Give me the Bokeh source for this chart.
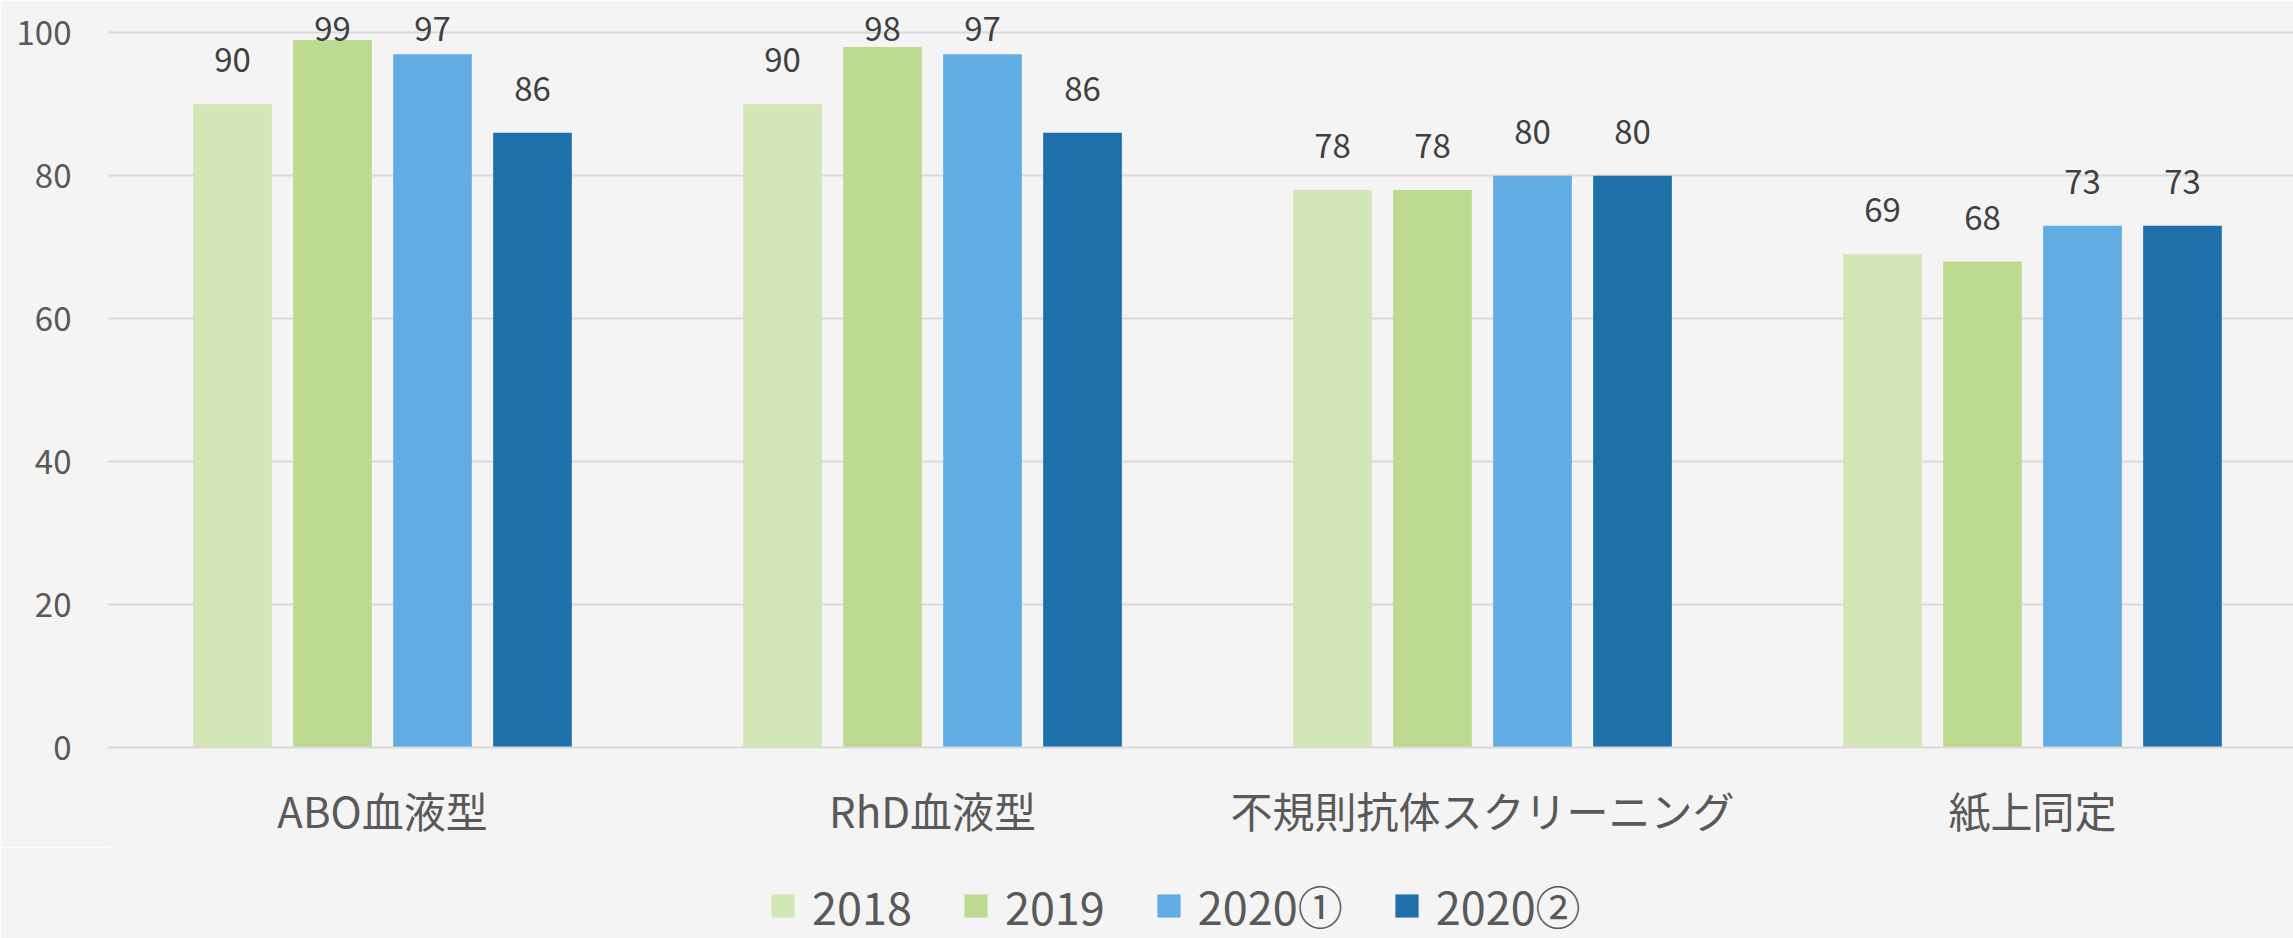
import numpy as np
from bokeh.plotting import figure
from bokeh.layouts import column
from bokeh.models import ColumnDataSource, Range1d, FixedTicker, Legend, LegendItem
from bokeh.transform import dodge
from bokeh.core.properties import value
from bokeh.embed import file_html
from bokeh.resources import INLINE

# ---- data ----
categories = ["ABO血液型", "RhD血液型", "不規則抗体スクリーニング", "紙上同定"]
series = ["2018", "2019", "2020①", "2020②"]
v2018 = [90, 90, 78, 69]
v2019 = [99, 98, 78, 68]
v2020_1 = [97, 97, 80, 73]
v2020_2 = [86, 86, 80, 73]
colors = ["#d2e6b6", "#bcdb91", "#61ade3", "#1e70aa"]
y_ticks = [0, 20, 40, 60, 80, 100]

FONT = "Noto Sans CJK JP"
BG = "#f4f4f4"
PX_PER_UNIT = 7.147          # vertical pixels per value unit
CAT_PX = 550.0               # pixels per category slot
FRAME_W = 2186
FRAME_H = 736
BOTTOM = 100
LABEL_GAP = 44 / PX_PER_UNIT  # data label offset above bar
LABEL_MAX = 100.6             # labels are kept inside the plot area

centers = [i + 0.5 for i in range(len(categories))]
all_vals = [v2018, v2019, v2020_1, v2020_2]
keys = ["s0", "s1", "s2", "s3"]

data = {"xc": centers}
for k, vals in zip(keys, all_vals):
    arr = np.array(vals, dtype=float)
    data[k] = vals
    data[k + "_ly"] = list(np.minimum(arr + LABEL_GAP, LABEL_MAX))
    data[k + "_t"] = [str(v) for v in vals]
source = ColumnDataSource(data)

p = figure(frame_width=FRAME_W, frame_height=FRAME_H,
           x_range=Range1d(0, FRAME_W / CAT_PX), y_range=Range1d(0, FRAME_H / PX_PER_UNIT),
           output_backend="svg", toolbar_location=None,
           min_border_left=107, min_border_right=0, min_border_top=11, min_border_bottom=BOTTOM)
p.background_fill_color = BG
p.border_fill_color = BG
p.outline_line_color = None

pitch = 100.0 / CAT_PX
bar_w = 78.7 / CAT_PX
offsets = [-1.5 * pitch, -0.5 * pitch, 0.5 * pitch, 1.5 * pitch]

for k, off, col in zip(keys, offsets, colors):
    p.vbar(x=dodge("xc", off, range=p.x_range), top=k, width=bar_w, bottom=0,
           source=source, fill_color=col, line_color=None)
    p.text(x=dodge("xc", off, range=p.x_range), y=k + "_ly", text=k + "_t", source=source,
           text_align="center", text_baseline="alphabetic",
           text_font=value(FONT), text_font_size="33px", text_color="#404040")

# axes
p.xaxis.ticker = FixedTicker(ticks=centers)
p.xaxis.major_label_overrides = {c: name for c, name in zip(centers, categories)}
p.xaxis.axis_line_color = "#d9d9d9"
p.xaxis.axis_line_width = 2
p.xaxis.major_tick_line_color = None
p.xaxis.minor_tick_line_color = None
p.xaxis.major_tick_out = 0
p.xaxis.major_tick_in = 0
p.xaxis.major_label_standoff = 31
p.xaxis.major_label_text_font = FONT
p.xaxis.major_label_text_font_size = "42px"
p.xaxis.major_label_text_color = "#595959"

p.yaxis.ticker = FixedTicker(ticks=y_ticks)
p.yaxis.axis_line_color = None
p.yaxis.major_tick_line_color = None
p.yaxis.minor_tick_line_color = None
p.yaxis.major_tick_out = 0
p.yaxis.major_tick_in = 0
p.yaxis.major_label_standoff = 36
p.yaxis.major_label_text_font = FONT
p.yaxis.major_label_text_font_size = "33px"
p.yaxis.major_label_text_color = "#595959"

p.xgrid.visible = False
p.ygrid.grid_line_color = "#d9d9d9"
p.ygrid.grid_line_width = 2

# ---- legend strip (separate figure under the chart) ----
MAIN_H = 11 + FRAME_H + BOTTOM
LEG_H = 938 - MAIN_H
q = figure(width=2293, height=LEG_H, x_range=Range1d(500, 501), y_range=Range1d(500, 501),
           output_backend="svg", toolbar_location=None,
           x_axis_location=None, y_axis_location=None,
           min_border_left=0, min_border_right=0, min_border_top=0, min_border_bottom=0)
q.background_fill_color = BG
q.border_fill_color = BG
q.outline_line_color = None
q.grid.visible = False

# legend swatches: same series, lying outside this strip's visible range
leg_renderers = [q.vbar(x="xc", top=k, width=bar_w, source=source, fill_color=col, line_color=None)
                 for k, col in zip(keys, colors)]
legend = Legend(items=[LegendItem(label=s, renderers=[r]) for s, r in zip(series, leg_renderers)],
                orientation="horizontal", location=(661, 0),
                glyph_width=29, glyph_height=29, label_standoff=15, spacing=49,
                label_text_font=FONT, label_text_font_size="45px", label_text_color="#595959",
                border_line_color=None, background_fill_alpha=0, padding=0, margin=0)
q.add_layout(legend, "center")

layout = column(p, q, spacing=0)
html = file_html(layout, INLINE)
html = html.replace("<body>", '<body style="background:#f4f4f4;">', 1)
open("out.html", "w").write(html)
